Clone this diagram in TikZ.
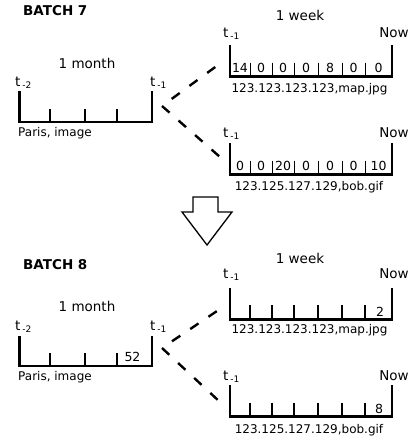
\documentclass[tikz,border=0pt]{standalone}
\usepackage{fontspec}
\setmainfont{DejaVu Sans}
\usetikzlibrary{calc}

\newcommand{\tlab}[1]{t\kern1.8pt{\fontsize{9}{10}\selectfont\raisebox{-2.5pt}{#1}}}

\begin{document}
\begin{tikzpicture}[x=1pt,y=-1pt,
  axis/.style={line width=2.4pt},
  tickmark/.style={line width=1.2pt},
  divider/.style={line width=1pt},
  link/.style={line width=2.4pt, dash pattern=on 10pt off 12pt},
  batch/.style={font=\fontsize{13.5}{15}\selectfont\bfseries, anchor=base west, inner sep=0pt},
  span/.style={font=\fontsize{13.5}{15}\selectfont, anchor=base, inner sep=0pt},
  tname/.style={font=\fontsize{13.5}{15}\selectfont, anchor=base west, inner sep=0pt},
  nowlab/.style={font=\fontsize{13.5}{15}\selectfont, anchor=base, inner sep=0pt},
  key/.style={font=\fontsize{12}{13}\selectfont, anchor=base, inner sep=0pt},
  cell/.style={font=\fontsize{12.5}{14}\selectfont, anchor=base, inner sep=0pt}]
  \useasboundingbox (0,0) rectangle (414,439);

  % batch 7
  \node[batch] (b7) at (23,15) {BATCH 7};
  \node[span] (month7) at (87,68) {1 month};
  \node[tname] (tm7a) at (15,86) {\tlab{-2}};
  \node[tname] (tm7b) at (150,86) {\tlab{-1}};
  \draw[axis] (19.5,91) -- (19.5,122) -- (152,122) -- (152,91);
  \foreach \x in {50,85,117} \draw[tickmark] (\x,109) -- (\x,122);
  \node[key, anchor=base west] (pa7) at (18,136) {Paris, image};

  \node[span] (week7) at (300,20) {1 week};
  \node[tname] (tw7a) at (223,37) {\tlab{-1}};
  \node[nowlab] (now7a) at (394,37) {Now};
  \draw[axis] (230,44.5) -- (230,76.5) -- (392,76.5) -- (392,44.5);
  \foreach \x in {250,272,294,318,342,365} \draw[divider] (\x,62.5) -- (\x,76.5);
  \foreach \v/\x [count=\i] in {14/240,0/261,0/283,0/306,8/330,0/353.5,0/378.5}
    \node[cell] (u7\i) at (\x,72) {\v};
  \node[key] (ip7a) at (309.5,92) {123.123.123.123,map.jpg};

  \node[tname] (tw7b) at (223,137) {\tlab{-1}};
  \node[nowlab] (now7b) at (394,137) {Now};
  \draw[axis] (230,143) -- (230,174.5) -- (392,174.5) -- (392,143);
  \foreach \x in {250,272,294,318,342,365} \draw[divider] (\x,160.5) -- (\x,174.5);
  \foreach \v/\x [count=\i] in {0/240,0/261,20/283,0/306,0/330,0/353.5,10/378.5}
    \node[cell] (l7\i) at (\x,170) {\v};
  \node[key] (ip7b) at (309,190) {123.125.127.129,bob.gif};

  \coordinate (s7) at (162,106);
  \coordinate (e7a) at (218,65);
  \coordinate (e7b) at (220,157);
  \draw[link, dash phase=10pt] (s7) -- (e7a);
  \draw[link] (s7) -- (e7b);

  % arrow
  \draw[line width=1.3pt] (193,197) -- (218,197) -- (218,212) -- (232,212)
    -- (207,245) -- (182,212) -- (193,212) -- cycle;

  % batch 8
  \node[batch] (b8) at (23,269) {BATCH 8};
  \node[span] (month8) at (87,311) {1 month};
  \node[tname] (tm8a) at (15,330) {\tlab{-2}};
  \node[tname] (tm8b) at (150,330) {\tlab{-1}};
  \draw[axis] (19.5,336) -- (19.5,366) -- (152,366) -- (152,336);
  \foreach \x in {50,85,117} \draw[tickmark] (\x,353) -- (\x,366);
  \node[cell] (m8) at (132.5,361) {52};
  \node[key, anchor=base west] (pa8) at (18,380) {Paris, image};

  \node[span] (week8) at (300,263) {1 week};
  \node[tname] (tw8a) at (223,278) {\tlab{-1}};
  \node[nowlab] (now8a) at (394,278) {Now};
  \draw[axis] (230,288) -- (230,319.5) -- (392,319.5) -- (392,288);
  \foreach \x in {250,272,294,318,342,365} \draw[tickmark] (\x,305) -- (\x,319.5);
  \node[cell] (u8) at (380,316) {2};
  \node[key] (ip8a) at (309.5,333) {123.123.123.123,map.jpg};

  \node[tname] (tw8b) at (223,380) {\tlab{-1}};
  \node[nowlab] (now8b) at (394,380) {Now};
  \draw[axis] (230,385) -- (230,416.5) -- (392,416.5) -- (392,385);
  \foreach \x in {250,272,294,318,342,365} \draw[tickmark] (\x,402.5) -- (\x,416.5);
  \node[cell] (l8) at (379,413.5) {8};
  \node[key] (ip8b) at (309,433) {123.125.127.129,bob.gif};

  \coordinate (s8) at (162,348);
  \coordinate (e8a) at (220,309);
  \coordinate (e8b) at (220,402);
  \draw[link, dash phase=10pt] (s8) -- (e8a);
  \draw[link] (s8) -- (e8b);
\end{tikzpicture}
\end{document}
